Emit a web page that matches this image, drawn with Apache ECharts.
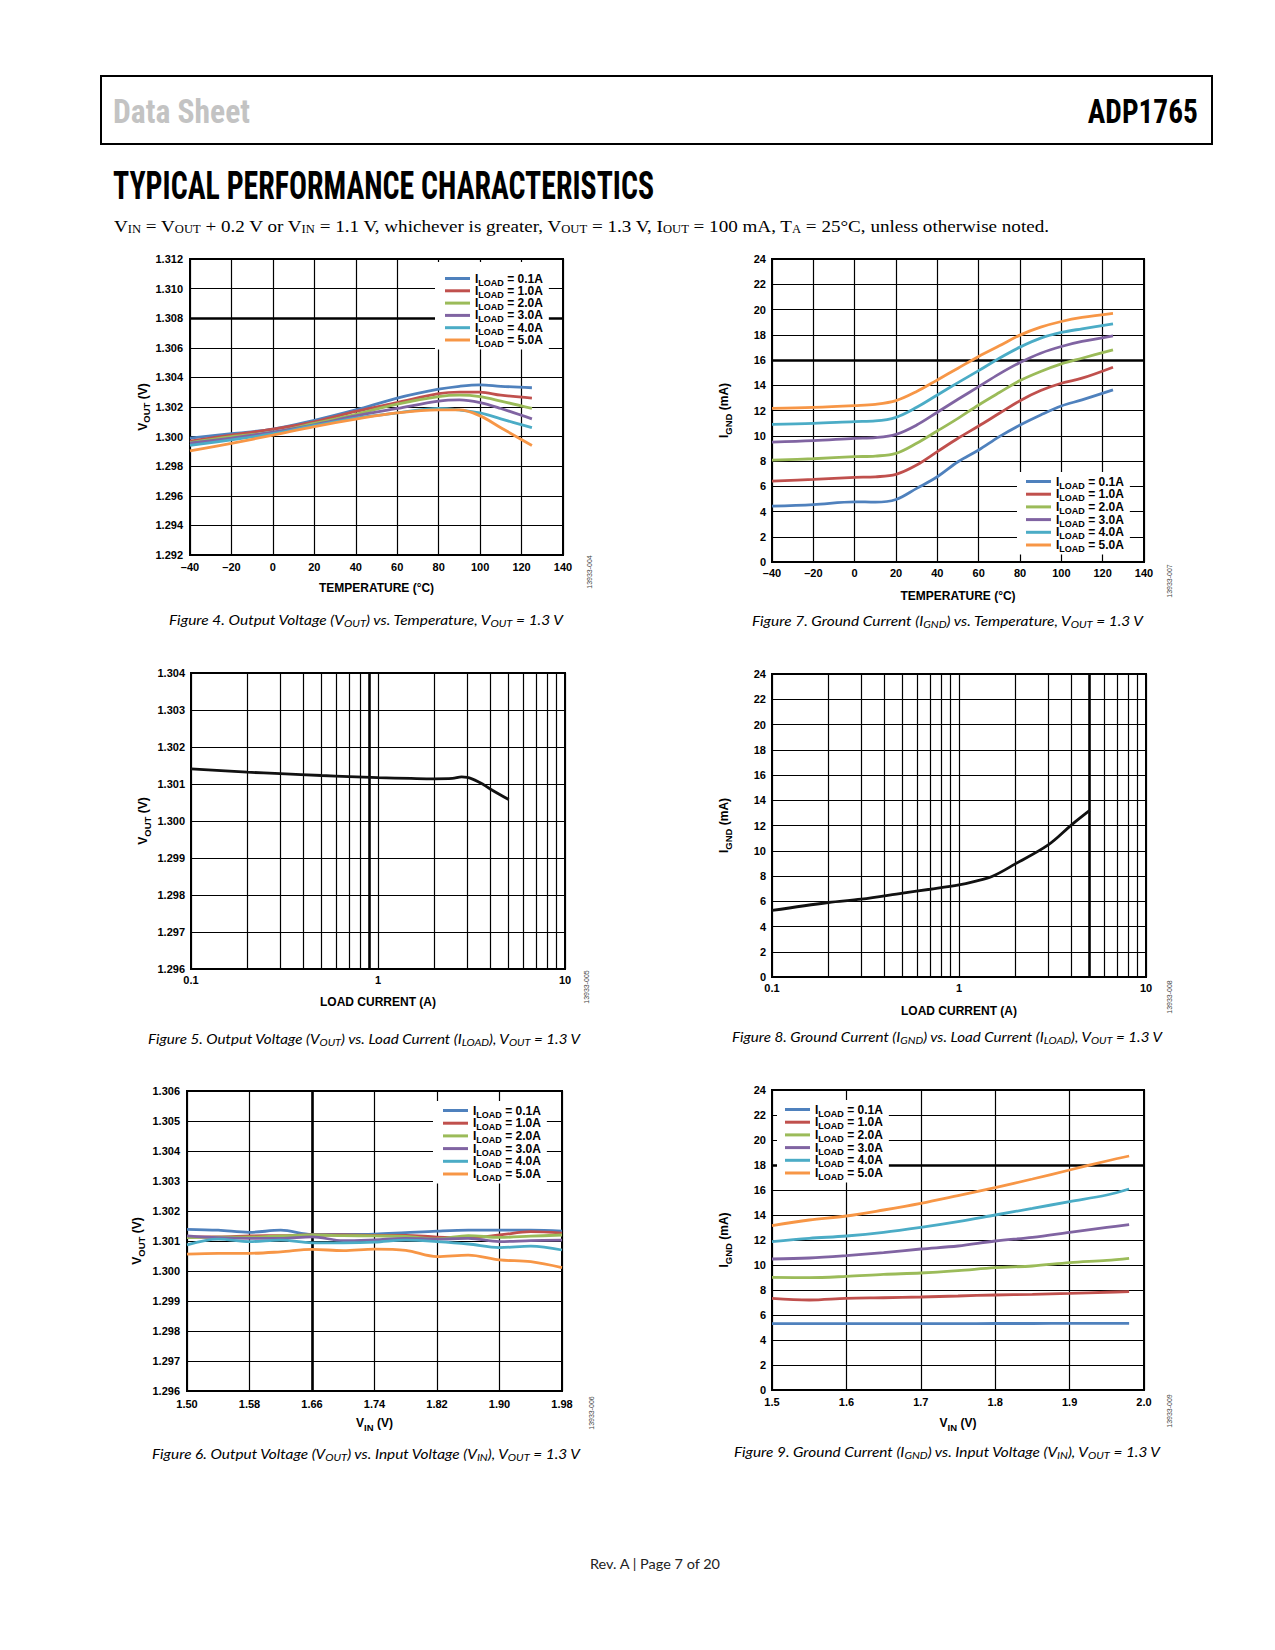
<!DOCTYPE html>
<html>
<head>
<meta charset="utf-8">
<script src="https://cdn.jsdelivr.net/npm/echarts@6/dist/echarts.min.js"></script>
<style>
html,body{margin:0;padding:0;background:#fff;}
#page{position:relative;width:1275px;height:1650px;overflow:hidden;background:#fff;}
#chart{position:absolute;left:0;top:0;width:1275px;height:1650px;}
.t{position:absolute;white-space:nowrap;}
.hdrbox{position:absolute;left:100px;top:75px;width:1113px;height:70px;box-sizing:border-box;border:2px solid #000;}
.cond{font-family:"Liberation Sans Narrow","Roboto Condensed",Roboto,"Liberation Sans",sans-serif;font-weight:bold;}
.serif{font-family:"Liberation Serif","DejaVu Serif",serif;font-size:17.5px;line-height:18px;color:#000;}
.serif sub{font-size:0.66em;vertical-align:-0.1em;line-height:0;}
.cap{font-family:Lato,"Open Sans",sans-serif;font-style:italic;font-size:14px;line-height:16px;color:#000;}
.cap sub{font-size:0.72em;vertical-align:-0.2em;line-height:0;}
.code{font-family:"Liberation Sans",Arial,sans-serif;font-size:7px;line-height:8px;color:#444;}
.foot{font-family:Lato,"Open Sans",sans-serif;font-size:13.5px;line-height:15px;color:#222;}
</style>
</head>
<body>
<div id="page">
  <div id="chart"></div>
  <div class="hdrbox"></div>
  <div class="t cond" id="hDS" style="left:113px;top:95px;font-size:33px;line-height:33px;color:#c3c3c3;">Data Sheet</div>
  <div class="t cond" id="hADP" style="right:77px;top:95px;font-size:33px;line-height:33px;color:#000;">ADP1765</div>
  <div class="t cond" id="hTPC" style="left:113px;top:167px;font-size:38px;line-height:38px;color:#000;">TYPICAL PERFORMANCE CHARACTERISTICS</div>
  <div class="t serif" id="hSub" style="left:114px;top:217px;">V<sub>IN</sub> = V<sub>OUT</sub> + 0.2 V or V<sub>IN</sub> = 1.1 V, whichever is greater, V<sub>OUT</sub> = 1.3 V, I<sub>OUT</sub> = 100 mA, T<sub>A</sub> = 25°C, unless otherwise noted.</div>

  <div class="t cap" id="c4" style="left:169px;top:612px;">Figure 4. Output Voltage (V<sub>OUT</sub>) vs. Temperature, V<sub>OUT</sub> = 1.3 V</div>
  <div class="t cap" id="c7" style="left:752px;top:613px;">Figure 7. Ground Current (I<sub>GND</sub>) vs. Temperature, V<sub>OUT</sub> = 1.3 V</div>
  <div class="t cap" id="c5" style="left:148px;top:1031px;">Figure 5. Output Voltage (V<sub>OUT</sub>) vs. Load Current (I<sub>LOAD</sub>), V<sub>OUT</sub> = 1.3 V</div>
  <div class="t cap" id="c8" style="left:732px;top:1029px;">Figure 8. Ground Current (I<sub>GND</sub>) vs. Load Current (I<sub>LOAD</sub>), V<sub>OUT</sub> = 1.3 V</div>
  <div class="t cap" id="c6" style="left:152px;top:1446px;">Figure 6. Output Voltage (V<sub>OUT</sub>) vs. Input Voltage (V<sub>IN</sub>), V<sub>OUT</sub> = 1.3 V</div>
  <div class="t cap" id="c9" style="left:734px;top:1444px;">Figure 9. Ground Current (I<sub>GND</sub>) vs. Input Voltage (V<sub>IN</sub>), V<sub>OUT</sub> = 1.3 V</div>

  <div class="t foot" id="foot" style="left:590px;top:1557px;">Rev. A | Page 7 of 20</div>
</div>
<script>
// ---------------- DATA ----------------
const LOADS = ['0.1A', '1.0A', '2.0A', '3.0A', '4.0A', '5.0A'];

// Figure 4: VOUT vs temperature
const TEMP_X = [-40, -20, 0, 20, 40, 60, 80, 90, 100, 110, 125];
const VOUT_T_01 = [1.2999, 1.3002, 1.3005, 1.3011, 1.3018, 1.3026, 1.3032, 1.3034, 1.3035, 1.3034, 1.3033];
const VOUT_T_10 = [1.2997, 1.3001, 1.3005, 1.3010, 1.3017, 1.3023, 1.3029, 1.3030, 1.3030, 1.3028, 1.3026];
const VOUT_T_20 = [1.2996, 1.3000, 1.3003, 1.3009, 1.3015, 1.3022, 1.3027, 1.3028, 1.3027, 1.3024, 1.3019];
const VOUT_T_30 = [1.29955, 1.2999, 1.3003, 1.3008, 1.3014, 1.3019, 1.3024, 1.30248, 1.3023, 1.3019, 1.3012];
const VOUT_T_40 = [1.2994, 1.29978, 1.3002, 1.30075, 1.30125, 1.3016, 1.3019, 1.3018, 1.3016, 1.3012, 1.3006];
const VOUT_T_50 = [1.29904, 1.29955, 1.3001, 1.30068, 1.30118, 1.3016, 1.3018, 1.3018, 1.3014, 1.3006, 1.2994];

// Figure 7: IGND vs temperature
const TEMP_X2 = [-40, -20, 0, 10, 20, 30, 40, 50, 60, 70, 80, 90, 100, 110, 125];
const IGND_T_01 = [4.42, 4.55, 4.77, 4.74, 4.95, 5.83, 6.75, 7.94, 8.87, 9.93, 10.85, 11.65, 12.36, 12.84, 13.63];
const IGND_T_10 = [6.41, 6.54, 6.70, 6.75, 6.94, 7.68, 8.74, 9.80, 10.77, 11.78, 12.78, 13.58, 14.16, 14.56, 15.43];
const IGND_T_20 = [8.07, 8.18, 8.34, 8.39, 8.60, 9.40, 10.38, 11.38, 12.44, 13.42, 14.37, 15.09, 15.69, 16.14, 16.80];
const IGND_T_30 = [9.50, 9.61, 9.79, 9.85, 10.11, 10.85, 11.86, 12.89, 13.89, 14.90, 15.80, 16.54, 17.07, 17.47, 17.92];
const IGND_T_40 = [10.90, 10.98, 11.12, 11.17, 11.46, 12.25, 13.23, 14.21, 15.16, 16.14, 17.02, 17.73, 18.18, 18.47, 18.87];
const IGND_T_50 = [12.17, 12.25, 12.39, 12.49, 12.78, 13.50, 14.42, 15.35, 16.28, 17.12, 17.97, 18.60, 19.05, 19.37, 19.69];

// Figure 5: VOUT vs load current
const ILOAD_X = [0.1, 0.2, 0.3, 0.5, 0.7, 1, 1.5, 2, 2.5, 2.8, 3, 3.5, 4, 5];
const VOUT_I = [1.30141, 1.30132, 1.30128, 1.30123, 1.30120, 1.30117, 1.30115, 1.30114, 1.30115, 1.30119, 1.30118, 1.30104, 1.30086, 1.30058];

// Figure 8: IGND vs load current
const ILOAD_X2 = [0.1, 0.2, 0.3, 0.5, 0.7, 1, 1.2, 1.5, 2, 3, 4, 5];
const IGND_I = [5.27, 5.90, 6.16, 6.64, 6.95, 7.30, 7.56, 7.96, 8.96, 10.46, 12.05, 13.19];

// Figure 6: VOUT vs VIN
const VIN_A = [1.50, 1.54, 1.58, 1.62, 1.66, 1.70, 1.74, 1.78, 1.82, 1.86, 1.90, 1.94, 1.98];
const VOUT_V_01 = [1.30139, 1.30136, 1.30129, 1.30136, 1.30122, 1.30122, 1.30123, 1.30128, 1.30133, 1.30136, 1.30136, 1.30136, 1.30133];
const VOUT_V_10 = [1.30114, 1.30114, 1.30117, 1.30118, 1.30120, 1.30120, 1.30119, 1.30119, 1.30113, 1.30111, 1.30120, 1.30131, 1.30126];
const VOUT_V_20 = [1.30111, 1.30113, 1.30113, 1.30117, 1.30120, 1.30118, 1.30117, 1.30115, 1.30107, 1.30118, 1.30112, 1.30116, 1.30120];
const VOUT_V_30 = [1.30117, 1.30111, 1.30109, 1.30109, 1.30114, 1.30101, 1.30104, 1.30109, 1.30106, 1.30109, 1.30098, 1.30101, 1.30103];
const VOUT_V_40 = [1.30087, 1.30106, 1.30098, 1.30103, 1.30094, 1.30094, 1.30096, 1.30103, 1.30098, 1.30090, 1.30078, 1.30083, 1.30070];
const VOUT_V_50 = [1.30056, 1.30059, 1.30059, 1.30064, 1.30072, 1.30068, 1.30073, 1.30069, 1.30048, 1.30053, 1.30037, 1.30031, 1.30011];

// Figure 9: IGND vs VIN
const VIN_B = [1.50, 1.55, 1.60, 1.65, 1.70, 1.75, 1.80, 1.85, 1.90, 1.95, 1.98];
const IGND_V_01 = [5.31, 5.31, 5.31, 5.31, 5.31, 5.31, 5.32, 5.32, 5.33, 5.33, 5.33];
const IGND_V_10 = [7.33, 7.20, 7.33, 7.38, 7.44, 7.52, 7.60, 7.65, 7.73, 7.82, 7.87];
const IGND_V_20 = [9.01, 8.99, 9.09, 9.25, 9.36, 9.55, 9.79, 9.92, 10.19, 10.37, 10.53];
const IGND_V_30 = [10.48, 10.56, 10.75, 10.99, 11.28, 11.52, 11.92, 12.21, 12.61, 13.01, 13.23];
const IGND_V_40 = [11.87, 12.13, 12.32, 12.61, 13.01, 13.47, 14.00, 14.53, 15.07, 15.60, 16.08];
const IGND_V_50 = [13.15, 13.60, 13.92, 14.40, 14.93, 15.55, 16.19, 16.88, 17.60, 18.32, 18.72];

// log-axis minor grid values (2..9 per decade)
const LOG_MINORS = [0.2, 0.3, 0.4, 0.5, 0.6, 0.7, 0.8, 0.9, 2, 3, 4, 5, 6, 7, 8, 9];
const VIN_MIN = 1.50; // Figure 6 axis origin (ticks every 0.08 V from 1.50 V)

// ---------------- STYLE / LAYOUT ----------------
const COLORS = ['#4f81bd', '#c0504d', '#9bbb59', '#8064a2', '#4bacc6', '#f79646'];
const FONT = 'Liberation Sans, Arial, sans-serif';
const LABEL = { fontFamily: FONT, fontWeight: 'bold', fontSize: 11, color: '#000' };
const NAME_RICH = {
  m: { fontFamily: FONT, fontWeight: 'bold', fontSize: 12, lineHeight: 14, color: '#000' },
  s: { fontFamily: FONT, fontWeight: 'bold', fontSize: 9.5, lineHeight: 6, padding: [8, 0, 0, 0], color: '#000' }
};
const LEG_RICH = {
  m: { fontFamily: FONT, fontWeight: 'bold', fontSize: 12, lineHeight: 12, color: '#000' },
  s: { fontFamily: FONT, fontWeight: 'bold', fontSize: 9, lineHeight: 4, padding: [8, 0, 0, 0], color: '#000' }
};

const GRIDS = [
  { left: 190, top: 259, width: 373, height: 296 },
  { left: 772, top: 259, width: 372, height: 303 },
  { left: 191, top: 673, width: 374, height: 296 },
  { left: 772, top: 674, width: 374, height: 303 },
  { left: 187, top: 1091, width: 375, height: 300 },
  { left: 772, top: 1090, width: 372, height: 300 }
];

const dash = v => (v < 0 ? '\u2013' + Math.abs(v) : String(v));
const f3 = v => v.toFixed(3);
const f0 = v => String(Math.round(v));

function xAx(i, o) {
  return Object.assign({
    gridIndex: i, type: 'value', nameLocation: 'middle',
    axisLine: { show: false }, axisTick: { show: false },
    splitLine: { show: true, lineStyle: { color: '#000', width: 1.2 } },
    nameTextStyle: { rich: NAME_RICH }
  }, o, { axisLabel: Object.assign({}, LABEL, o.axisLabel) });
}
function yAx(i, o) {
  return Object.assign({
    gridIndex: i, type: 'value', nameLocation: 'middle', nameRotate: 90,
    axisLine: { show: false }, axisTick: { show: false },
    splitLine: { show: true, lineStyle: { color: '#000', width: 1.2 } },
    nameTextStyle: { rich: NAME_RICH }
  }, o, { axisLabel: Object.assign({}, LABEL, o.axisLabel) });
}

const X_AXES = [
  xAx(0, { min: -40, max: 140, interval: 20, name: '{m|TEMPERATURE (°C)}', nameGap: 26, axisLabel: { formatter: dash, margin: 6 } }),
  xAx(1, { min: -40, max: 140, interval: 20, name: '{m|TEMPERATURE (°C)}', nameGap: 27, axisLabel: { formatter: dash, margin: 5 } }),
  xAx(2, { type: 'log', logBase: 10, min: 0.1, max: 10, name: '{m|LOAD CURRENT (A)}', nameGap: 26, axisLabel: { formatter: v => String(v), margin: 5 } }),
  xAx(3, { type: 'log', logBase: 10, min: 0.1, max: 10, name: '{m|LOAD CURRENT (A)}', nameGap: 27, axisLabel: { formatter: v => String(v), margin: 5 } }),
  xAx(4, { min: 0, max: 0.48, interval: 0.08, name: '{m|V}{s|IN}{m| (V)}', nameGap: 25, axisLabel: { formatter: v => (v + VIN_MIN).toFixed(2), margin: 7 } }),
  xAx(5, { min: 1.5, max: 2.0, interval: 0.1, name: '{m|V}{s|IN}{m| (V)}', nameGap: 26, axisLabel: { formatter: v => v.toFixed(1), margin: 6 } })
];
const Y_AXES = [
  yAx(0, { min: 1.292, max: 1.312, interval: 0.002, name: '{m|V}{s|OUT}{m| (V)}', nameGap: 40, axisLabel: { formatter: f3, margin: 7 } }),
  yAx(1, { min: 0, max: 24, interval: 2, name: '{m|I}{s|GND}{m| (mA)}', nameGap: 41, axisLabel: { formatter: f0, margin: 6 } }),
  yAx(2, { min: 1.296, max: 1.304, interval: 0.001, name: '{m|V}{s|OUT}{m| (V)}', nameGap: 41, axisLabel: { formatter: f3, margin: 6 } }),
  yAx(3, { min: 0, max: 24, interval: 2, name: '{m|I}{s|GND}{m| (mA)}', nameGap: 41, axisLabel: { formatter: f0, margin: 6 } }),
  yAx(4, { min: 1.296, max: 1.306, interval: 0.001, name: '{m|V}{s|OUT}{m| (V)}', nameGap: 43, axisLabel: { formatter: f3, margin: 7 } }),
  yAx(5, { min: 0, max: 24, interval: 2, name: '{m|I}{s|GND}{m| (mA)}', nameGap: 41, axisLabel: { formatter: f0, margin: 6 } })
];

function series(name, gi, xs, ys, color, xOffset) {
  const off = xOffset || 0;
  return {
    type: 'line', name, xAxisIndex: gi, yAxisIndex: gi, silent: true,
    data: xs.map((x, k) => [x - off, ys[k]]),
    showSymbol: false, smooth: 0.35, color,
    lineStyle: { width: 2.8, color }, z: 3
  };
}
function mark(lines) {
  return {
    silent: true, symbol: 'none', z: 1, animation: false, precision: 6,
    label: { show: false },
    lineStyle: { color: '#000', width: 2.6, type: 'solid' },
    data: lines
  };
}

const SERIES = [];
[VOUT_T_01, VOUT_T_10, VOUT_T_20, VOUT_T_30, VOUT_T_40, VOUT_T_50].forEach((d, k) =>
  SERIES.push(series(LOADS[k], 0, TEMP_X, d, COLORS[k])));
[IGND_T_01, IGND_T_10, IGND_T_20, IGND_T_30, IGND_T_40, IGND_T_50].forEach((d, k) =>
  SERIES.push(series(LOADS[k], 1, TEMP_X2, d, COLORS[k])));
SERIES.push(series('VOUT vs ILOAD', 2, ILOAD_X, VOUT_I, '#111'));
SERIES.push(series('IGND vs ILOAD', 3, ILOAD_X2, IGND_I, '#111'));
[VOUT_V_01, VOUT_V_10, VOUT_V_20, VOUT_V_30, VOUT_V_40, VOUT_V_50].forEach((d, k) =>
  SERIES.push(series(LOADS[k], 4, VIN_A, d, COLORS[k], VIN_MIN)));
[IGND_V_01, IGND_V_10, IGND_V_20, IGND_V_30, IGND_V_40, IGND_V_50].forEach((d, k) =>
  SERIES.push(series(LOADS[k], 5, VIN_B, d, COLORS[k])));

// heavier reference grid lines seen in the original plots
SERIES[0].markLine = mark([{ yAxis: 1.308 }]);
SERIES[6].markLine = mark([{ yAxis: 16 }]);
SERIES[12].markLine = mark(LOG_MINORS.map(v => ({ xAxis: v, lineStyle: { width: v === 0.9 ? 2.6 : 1.2 } })));
SERIES[13].markLine = mark(LOG_MINORS.map(v => ({ xAxis: v, lineStyle: { width: v === 5 ? 2.6 : 1.2 } })));
SERIES[14].markLine = mark([{ xAxis: 1.66 - VIN_MIN }]);
SERIES[20].markLine = mark([{ yAxis: 18 }]);

function legend(left, top, padding, gap) {
  return {
    data: LOADS, orient: 'vertical', left, top, padding, itemGap: gap,
    icon: 'rect', itemWidth: 25, itemHeight: 3, selectedMode: false, z: 10,
    backgroundColor: '#fff',
    formatter: n => '{m|I}{s|LOAD}{m| = ' + n + '}',
    textStyle: { fontFamily: FONT, fontWeight: 'bold', fontSize: 12, color: '#000', rich: LEG_RICH }
  };
}

const option = {
  animation: false,
  backgroundColor: 'transparent',
  grid: GRIDS.map(g => Object.assign({ show: true, borderColor: '#000', borderWidth: 2, backgroundColor: 'transparent', containLabel: false }, g)),
  xAxis: X_AXES,
  yAxis: Y_AXES,
  legend: [
    legend(435, 262, [8, 6, 1, 10], -4.7),
    legend(1017, 472, [1, 6, 1, 9], -4.3),
    legend(433, 1101, [1, 6, 1, 10], -4.3),
    legend(777, 1100, [1, 6, 1, 8], -4.3)
  ],
  series: SERIES
};

const chart = echarts.init(document.getElementById('chart'), null, { renderer: 'svg', width: 1275, height: 1650 });
chart.setOption(option);

// ---------------- page text fitting ----------------
const CODES = [
  ['13933-004', 590, 572], ['13933-007', 1170, 581], ['13933-005', 587, 987],
  ['13933-008', 1170, 997], ['13933-006', 592, 1413], ['13933-009', 1170, 1411]
];
const page = document.getElementById('page');
CODES.forEach(([txt, cx, cy]) => {
  const el = document.createElement('div');
  el.className = 't code';
  el.textContent = txt;
  page.appendChild(el);
  const r = el.getBoundingClientRect();
  el.style.left = (cx - r.width / 2) + 'px';
  el.style.top = (cy - r.height / 2) + 'px';
  el.style.transform = 'rotate(-90deg)';
});

const FITS = [
  ['hDS', 137, 'left'], ['hADP', 110, 'right'], ['hTPC', 541, 'left'], ['hSub', 935, 'left'],
  ['c4', 394, 'left'], ['c7', 391, 'left'], ['c5', 432, 'left'],
  ['c8', 430, 'left'], ['c6', 428, 'left'], ['c9', 426, 'left'], ['foot', 130, 'left']
];
function fitAll() {
  FITS.forEach(([id, w, o]) => {
    const el = document.getElementById(id);
    el.style.transform = 'none';
    const cw = el.getBoundingClientRect().width;
    el.style.transformOrigin = o + ' top';
    el.style.transform = 'scaleX(' + (w / cw) + ')';
  });
}
fitAll();
if (document.fonts && document.fonts.ready) document.fonts.ready.then(fitAll);
</script>
</body>
</html>
